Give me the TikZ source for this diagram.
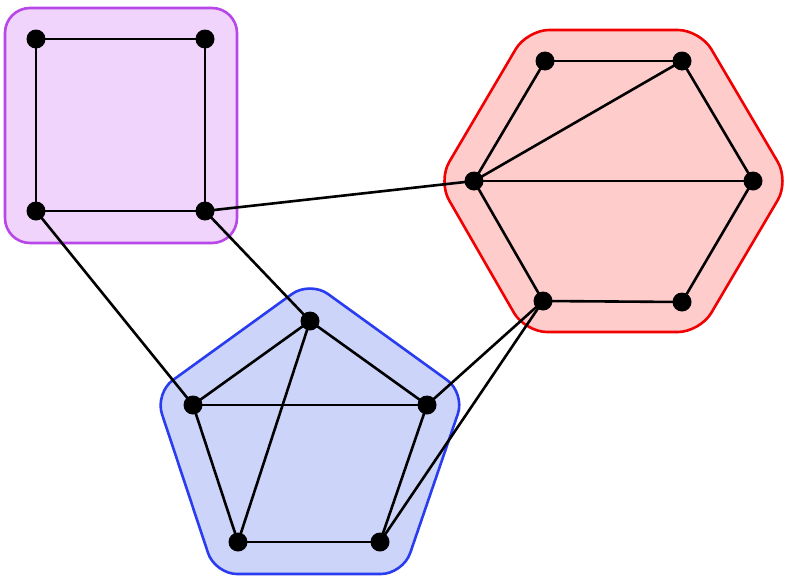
\documentclass[tikz,border=0pt]{standalone}
\begin{document}
\begin{tikzpicture}[x=1pt,y=-1pt,
  vtx/.style={circle,fill=black,inner sep=0pt,minimum size=19pt},
  edge/.style={line width=2.6pt,black},
  grp/.style={line width=2.6pt,rounded corners=22pt}]
\useasboundingbox (0,0) rectangle (790,576);
\definecolor{pfill}{HTML}{F0D4FC}\definecolor{pline}{HTML}{B847E8}
\definecolor{hfill}{HTML}{FFCCCC}\definecolor{hline}{HTML}{F00000}
\definecolor{bfill}{HTML}{CCD4FA}\definecolor{bline}{HTML}{2A3CF0}
\draw[grp,fill=pfill,draw=pline,rounded corners=25pt] (5,8) rectangle (237,243);
\draw[grp,fill=hfill,draw=hline] (438,181)--(527,30)--(700,30)--(789,181)--(700,332)--(525,332)--cycle;
\draw[grp,fill=bfill,draw=bline] (310,281)--(465,393)--(403,574)--(215,574)--(155,393)--cycle;
\node[vtx] (a1) at (36,39) {}; \node[vtx] (a2) at (205,39) {};
\node[vtx] (a3) at (36,211) {}; \node[vtx] (a4) at (205,211) {};
\node[vtx] (h1) at (545,61) {}; \node[vtx] (h2) at (682,61) {};
\node[vtx] (h3) at (474,181) {}; \node[vtx] (h4) at (753,181) {};
\node[vtx] (h5) at (543,301) {}; \node[vtx] (h6) at (682,302) {};
\node[vtx] (p1) at (310,321) {}; \node[vtx] (p2) at (193,405) {};
\node[vtx] (p3) at (427,405) {}; \node[vtx] (p4) at (238,542) {};
\node[vtx] (p5) at (380,542) {};
\begin{scope}[on background layer/.style={}]
\foreach \u/\v in {a1/a2,a2/a4,a4/a3,a3/a1,a4/h3,a3/p2,a4/p1,h1/h2,h1/h3,h3/h2,h3/h4,h2/h4,h3/h5,h5/h6,h6/h4,h5/p3,h5/p5,p1/p2,p1/p3,p2/p3,p1/p4,p2/p4,p4/p5,p5/p3}
  \draw[edge] (\u.center) -- (\v.center);
\end{scope}
\end{tikzpicture}
\end{document}
